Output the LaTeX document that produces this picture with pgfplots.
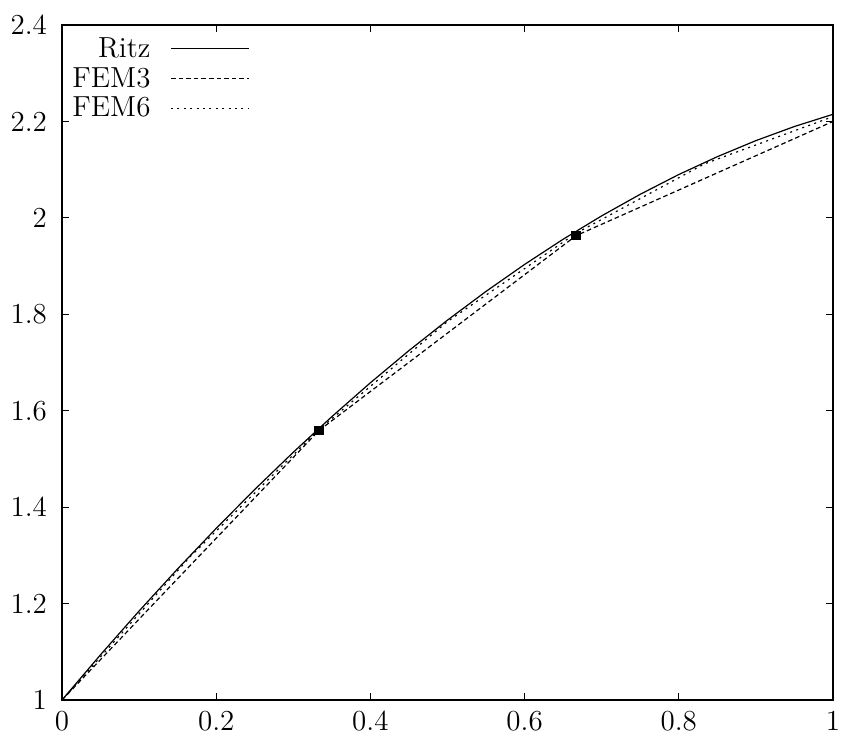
\documentclass[border=0pt]{standalone}
\usepackage{pgfplots}
\pgfplotsset{compat=1.18}

\pgfplotstableread{
x y
0.00 1.0000
0.05 1.0939
0.10 1.1846
0.15 1.2720
0.20 1.3560
0.25 1.4367
0.30 1.5139
0.35 1.5877
0.40 1.6580
0.45 1.7247
0.50 1.7879
0.55 1.8475
0.60 1.9034
0.65 1.9557
0.70 2.0042
0.75 2.0489
0.80 2.0899
0.85 2.1269
0.90 2.1602
0.95 2.1895
1.00 2.2148
}\ritz

\pgfplotstableread{
x y
0.0000 1.000
0.3333 1.559
0.6667 1.963
1.0000 2.200
}\femthree

\pgfplotstableread{
x y
0.0000 1.000
0.1667 1.298
0.3333 1.561
0.5000 1.785
0.6667 1.968
0.8333 2.112
1.0000 2.210
}\femsix

\begin{document}
\begin{tikzpicture}
\begin{axis}[
    scale only axis,
    width=385.5pt, height=337.5pt,
    xmin=0, xmax=1, ymin=1, ymax=2.4,
    xtick={0,0.2,0.4,0.6,0.8,1},
    ytick={1,1.2,1.4,1.6,1.8,2,2.2,2.4},
    xticklabels={0,0.2,0.4,0.6,0.8,1},
    yticklabels={1,1.2,1.4,1.6,1.8,2,2.2,2.4},
    tick align=inside,
    major tick length=3.5pt,
    tick style={black, line width=0.6pt},
    axis line style={line width=0.9pt},
    tick label style={font=\fontsize{14.5}{17}\selectfont},
    yticklabel style={xshift=-4pt},
    xticklabel style={yshift=-2pt},
    clip=false,
    legend plot pos=right,
    legend cell align=right,
    legend style={draw=none, fill=none, at={(rel axis cs:0,1)}, anchor=north west,
        xshift=0pt, yshift=-2pt, row sep=-0.5pt,
        font=\fontsize{14.5}{17}\selectfont},
    legend image code/.code={\path (0pt,0pt); \draw[#1] (8pt,0pt) -- (47pt,0pt);},
]
\addplot[black, line width=0.6pt] table {\ritz};
\addlegendentry{Ritz}
\addplot[black, line width=0.6pt, dash pattern=on 2.3pt off 1.5pt] table {\femthree};
\addlegendentry{FEM3}
\addplot[black, line width=0.6pt, dash pattern=on 1pt off 2.2pt] table {\femsix};
\addlegendentry{FEM6}
\addplot[only marks, mark=square*, mark size=2.1pt, black, forget plot] coordinates {(0.3333,1.559) (0.6667,1.963)};
\coordinate (sw) at (rel axis cs:0,0);
\coordinate (ne) at (rel axis cs:1,1);
\end{axis}
\pgfresetboundingbox
\path (sw) ++(-31pt,-20pt) (ne) ++(4.5pt,12.5pt);
\end{tikzpicture}
\end{document}
